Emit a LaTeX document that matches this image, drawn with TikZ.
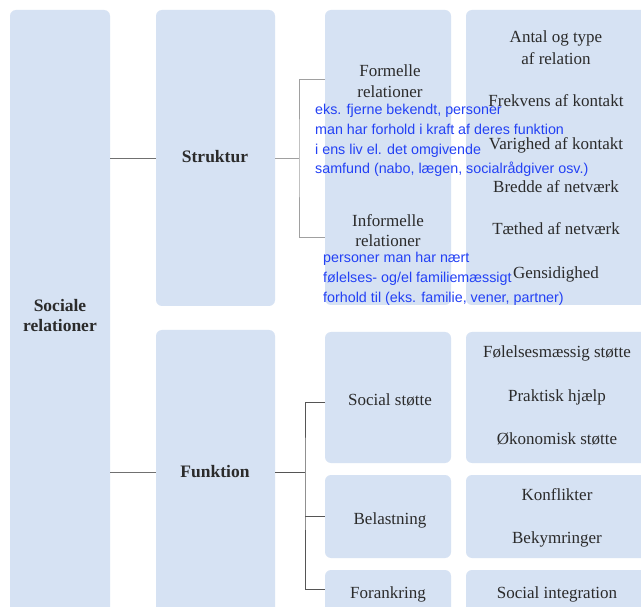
\documentclass[tikz,border=0pt]{standalone}
\usepackage{fontspec}
\setmainfont{Liberation Serif}
\newfontfamily\notefont{Liberation Sans}
\definecolor{boxfill}{HTML}{D6E2F3}
\definecolor{inkgray}{HTML}{2B2B2B}
\definecolor{noteblue}{RGB}{35,65,245}
\definecolor{linkmid}{HTML}{707070}
\definecolor{linklight}{HTML}{A0A0A0}
\definecolor{linkdark}{HTML}{555555}
\begin{document}
\begin{tikzpicture}[x=1pt,y=-1pt,
  panel/.style={fill=boxfill, rounded corners=6pt, inner sep=0pt, draw=none},
  lbl/.style={font=\fontsize{17}{20}\selectfont, text=inkgray, anchor=base, inner sep=0pt},
  hd/.style={lbl, font=\fontsize{17.5}{20}\selectfont\bfseries},
  note/.style={font=\notefont\fontsize{14.3}{19.5}\selectfont, text=noteblue, anchor=base west, inner sep=0pt},
  linkA/.style={draw=linkmid, line width=0.9pt},
  linkB/.style={draw=linklight, line width=0.9pt},
  linkC/.style={draw=linkdark, line width=0.9pt}]
\useasboundingbox (0,0) rectangle (641,607);
\clip (0,0) rectangle (641,607);
\fill[white] (0,0) rectangle (641,607);

% panels
\node[panel, minimum width=100, minimum height=614] (soc) at (60,317) {};
\node[panel, minimum width=119, minimum height=296] (str) at (215.5,158) {};
\node[panel, minimum width=119, minimum height=284] (fun) at (215.5,472) {};
\node[panel, minimum width=126, minimum height=295] (rel) at (388,157.5) {};
\node[panel, minimum width=182, minimum height=295] (relx) at (557,157.5) {};
\node[panel, minimum width=126, minimum height=131] (ss) at (388,397.5) {};
\node[panel, minimum width=182, minimum height=131] (ssx) at (557,397.5) {};
\node[panel, minimum width=126, minimum height=83] (bel) at (388,516.5) {};
\node[panel, minimum width=182, minimum height=83] (belx) at (557,516.5) {};
\node[panel, minimum width=126, minimum height=44] (fora) at (388,592) {};
\node[panel, minimum width=182, minimum height=44] (forx) at (557,592) {};

% connectors
\draw[linkA] (soc.east |- str) -- (str.west);
\draw[linkA] (soc.east |- fun) -- (fun.west);

\coordinate (sj) at (299,158);
\coordinate (fA) at (325,79);
\coordinate (iA) at (325,237);
\draw[linkB] (str.east) -- (sj);
\draw[linkB] (fA) -| (sj) |- (iA);

\coordinate (fj) at (305,472);
\coordinate (sA) at (325,402);
\coordinate (oA) at (325,589);
\draw[linkC] (fun.east) -- (fj);
\draw[linkC] (sA) -| (fj) |- (oA);
\draw[linkC] (fj |- bel.west) -- (bel.west);

% labels
\node[hd] (t-soc1) at (60,312) {Sociale};
\node[hd] (t-soc2) at (60,332) {relationer};
\node[hd] (t-str) at (215,163) {Struktur};
\node[hd] (t-fun) at (215,477) {Funktion};

\node[lbl] (t-for1) at (390,77) {Formelle};
\node[lbl] (t-for2) at (390,98) {relationer};
\node[lbl] (t-inf1) at (388,227) {Informelle};
\node[lbl] (t-inf2) at (388,247) {relationer};

\node[lbl] (t-a1) at (556,43) {Antal og type};
\node[lbl] (t-a2) at (556,65) {af relation};
\node[lbl] (t-a3) at (556,107) {Frekvens af kontakt};
\node[lbl] (t-a4) at (556,150) {Varighed af kontakt};
\node[lbl] (t-a5) at (556,193) {Bredde af netværk};
\node[lbl] (t-a6) at (556,235) {Tæthed af netværk};
\node[lbl] (t-a7) at (556,279) {Gensidighed};

\node[lbl] (t-ss) at (390,405) {Social støtte};
\node[lbl] (t-b1) at (557,358) {Følelsesmæssig støtte};
\node[lbl] (t-b2) at (557,402) {Praktisk hjælp};
\node[lbl] (t-b3) at (557,444) {Økonomisk støtte};

\node[lbl] (t-bel) at (390,524) {Belastning};
\node[lbl] (t-c1) at (557,500) {Konflikter};
\node[lbl] (t-c2) at (557,543) {Bekymringer};

\node[lbl] (t-fora) at (388,598) {Forankring};
\node[lbl] (t-d1) at (557,598) {Social integration};

% notes
\node[note] (n1a) at (315,115) {eks. fjerne bekendt, personer};
\node[note] (n1b) at (315,135) {man har forhold i kraft af deres funktion};
\node[note] (n1c) at (315,155) {i ens liv el. det omgivende};
\node[note] (n1d) at (315,174) {samfund (nabo, lægen, socialrådgiver osv.)};

\node[note] (n2a) at (323,263) {personer man har nært};
\node[note] (n2b) at (323,283) {følelses- og/el familiemæssigt};
\node[note] (n2c) at (323,302) {forhold til (eks. familie, vener, partner)};
\end{tikzpicture}
\end{document}
